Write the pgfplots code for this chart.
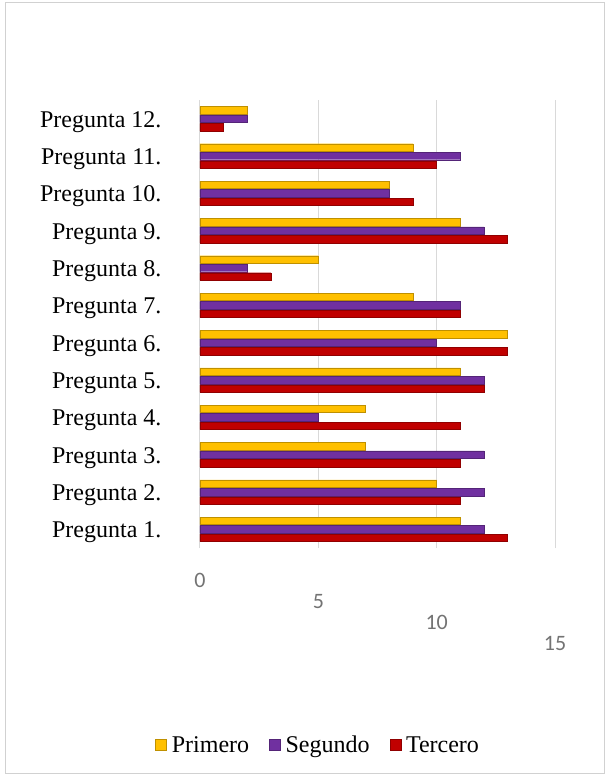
\documentclass[border=0pt]{standalone}
\usepackage{pgfplots}
\usepackage{pgfplotstable}
\pgfplotsset{compat=1.18}
\usepackage{fontspec}
\setmainfont{Liberation Serif}
\newfontfamily\tickfont{Carlito}
\definecolor{cPri}{HTML}{FFC000}
\definecolor{cSeg}{HTML}{7030A0}
\definecolor{cTer}{HTML}{C00000}
\pgfplotstableread{
q p s t
1 11 12 13
2 10 12 11
3 7 12 11
4 7 5 11
5 11 12 12
6 13 10 13
7 9 11 11
8 5 2 3
9 11 12 13
10 8 8 9
11 9 11 10
12 2 2 1
}\data
\begin{document}
\begin{tikzpicture}
\useasboundingbox (0pt,0pt) rectangle (609pt,777pt);
\draw[black!18, line width=1pt] (5pt,3pt) rectangle (604pt,774pt);
\begin{axis}[
  at={(200pt,229pt)}, anchor=south west,
  scale only axis, width=355pt, height=448pt,
  xmin=0, xmax=15, ymin=0.5, ymax=12.5,
  xtick={0,5,10,15}, ytick={1,...,12},
  /pgf/number format/assume math mode=true,
  yticklabels={Pregunta 1.,Pregunta 2.,Pregunta 3.,Pregunta 4.,Pregunta 5.,Pregunta 6.,Pregunta 7.,Pregunta 8.,Pregunta 9.,Pregunta 10.,Pregunta 11.,Pregunta 12.},
  yticklabel style={font=\fontsize{24}{26}\selectfont, xshift=-35pt, yshift=-3pt},
  xticklabel={\raisebox{\dimexpr -36pt-21pt*\ticknum\relax}[0pt][0pt]{\fontsize{22}{24}\tickfont\pgfmathprintnumber{\tick}}},
  xticklabel style={font=\fontsize{22}{24}\selectfont\tickfont, text=black!55},
  xmajorgrids, grid style={black!15, line width=1pt},
  axis line style={draw=none}, major tick length=0pt, tick style={draw=none},
  xbar, bar width=7.5pt,
  legend columns=-1,
  legend style={draw=none, at={(0.333,-0.44)}, anchor=center, font=\fontsize{24}{26}\selectfont,
    /tikz/every odd column/.append style={column sep=3pt},
    /tikz/every even column/.append style={column sep=18pt}},
  legend image code/.code={\fill[#1] (0pt,-5pt) rectangle (11pt,6pt);},
  clip=false,
]
\addplot[fill=cPri, draw=cPri!75!black, line width=0.4pt, bar shift=8.5pt] table[x=p,y=q]{\data};
\addplot[fill=cSeg, draw=cSeg!75!black, line width=0.4pt, bar shift=0pt] table[x=s,y=q]{\data};
\addplot[fill=cTer, draw=cTer!75!black, line width=0.4pt, bar shift=-8.5pt] table[x=t,y=q]{\data};
\legend{Primero,Segundo,Tercero}
\end{axis}
\end{tikzpicture}
\end{document}
